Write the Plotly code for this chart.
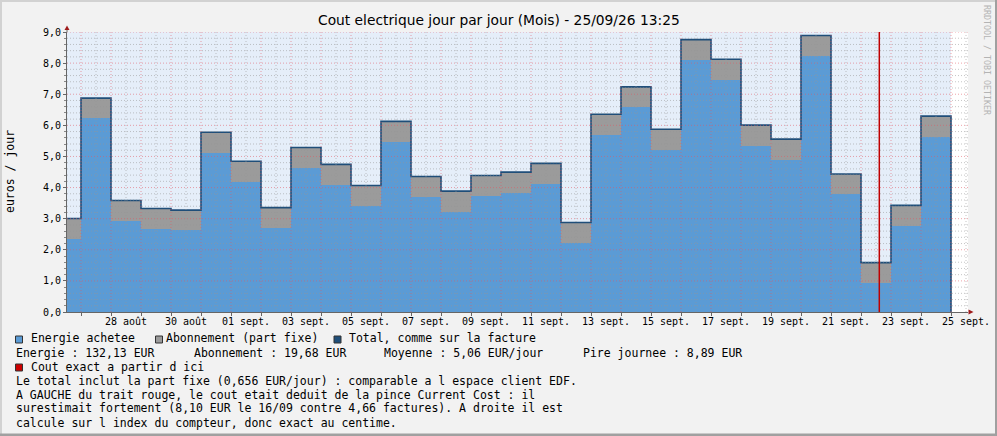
import plotly.graph_objects as go

# jours affiches (26 aout -> 24 sept 2026), une barre par jour
jours = ["26/08", "27/08", "28/08", "29/08", "30/08", "31/08",
         "01/09", "02/09", "03/09", "04/09", "05/09", "06/09", "07/09", "08/09",
         "09/09", "10/09", "11/09", "12/09", "13/09", "14/09", "15/09", "16/09",
         "17/09", "18/09", "19/09", "20/09", "21/09", "22/09", "23/09", "24/09"]

# cout de l'energie achetee (EUR / jour)
energie = [2.35, 6.22, 2.93, 2.67, 2.62, 5.12, 4.19, 2.70, 4.63, 4.09, 3.41, 5.47,
           3.70, 3.23, 3.73, 3.84, 4.12, 2.22, 5.70, 6.58, 5.22, 8.10, 7.47, 5.35,
           4.90, 8.23, 3.78, 0.93, 2.77, 5.64]

# abonnement (part fixe, EUR / jour)
abonnement = [0.656, 0.656, 0.656, 0.656, 0.656, 0.656, 0.656, 0.656, 0.656, 0.656,
              0.656, 0.656, 0.656, 0.656, 0.656, 0.656, 0.656, 0.656, 0.656, 0.656,
              0.656, 0.656, 0.656, 0.656, 0.656, 0.656, 0.656, 0.656, 0.656, 0.656]

# etiquettes de l'axe des temps (une sur deux), indice du jour depuis le 26/08
tick_jours = [2, 4, 6, 8, 10, 12, 14, 16, 18, 20, 22, 24, 26, 28, 30]
tick_labels = ["28 août", "30 août", "01 sept.", "03 sept.", "05 sept.", "07 sept.",
               "09 sept.", "11 sept.", "13 sept.", "15 sept.", "17 sept.", "19 sept.",
               "21 sept.", "23 sept.", "25 sept."]

# trait rouge : cout exact a partir d'ici (22/09 vers 14h40)
trait_rouge = 27.61

titre = "Cout electrique jour par jour (Mois) - 25/09/26 13:25"

# --- geometrie (pixels de l'image) ---
L, R, T, B = 67, 968, 32, 312
W, H = R - L, B - T


def px(x):
    return (x - L) / W


def py(y):
    return (B - y) / H


x_range = [(L - 51) / 30, (R - 51) / 30]
n = len(jours)
x = [i + 0.5 for i in range(n)]
total = [e + a for e, a in zip(energie, abonnement)]

MONO = "DejaVu Sans Mono"

fig = go.Figure()
fig.add_trace(go.Bar(x=x, y=energie, width=1, marker=dict(color="#5B9BD5", line_width=0),
                     name="Energie achetee"))
fig.add_trace(go.Bar(x=x, y=abonnement, width=1, marker=dict(color="#9B9B9B", line_width=0),
                     name="Abonnement (part fixe)"))
fig.add_trace(go.Scatter(x=list(range(n)) + [n, n], y=total + [total[-1], 0],
                         mode="lines", line=dict(color="#1F4E79", width=1.6, shape="hv"),
                         name="Total"))

shapes = []
# fond bleu clair jusqu'a la fin des donnees
shapes.append(dict(type="rect", xref="x", yref="paper", x0=x_range[0], x1=n, y0=0, y1=1,
                   fillcolor="#E5EEF9", line_width=0, layer="below"))

# grille (dessinee par-dessus les barres, comme rrdtool)
grid_minor = dict(color="rgba(150,150,150,0.55)", width=1, dash="1px,2px")
grid_major = dict(color="rgba(225,90,100,0.55)", width=1, dash="1px,2px")
for k in range(1, 45):
    if k % 5:
        shapes.append(dict(type="line", xref="paper", yref="y", x0=0, x1=1, y0=k * 0.2, y1=k * 0.2,
                           line=grid_minor, layer="above"))
for k in range(1, 10):
    shapes.append(dict(type="line", xref="paper", yref="y", x0=0, x1=1, y0=k, y1=k,
                       line=grid_major, layer="above"))
for k in range(0, 31):
    xm = k + 0.5
    if x_range[0] < xm < x_range[1]:
        shapes.append(dict(type="line", xref="x", yref="paper", x0=xm, x1=xm, y0=0, y1=1,
                           line=grid_minor, layer="above"))
for k in range(1, 31):
    shapes.append(dict(type="line", xref="x", yref="paper", x0=k, x1=k, y0=0, y1=1,
                       line=grid_major, layer="above"))

# trait rouge
shapes.append(dict(type="line", xref="x", yref="paper", x0=trait_rouge, x1=trait_rouge, y0=0, y1=1,
                   line=dict(color="#C00000", width=1.5), layer="above"))

# prolongement des axes + fleches
shapes.append(dict(type="line", xref="paper", yref="paper", x0=0, x1=0, y0=1, y1=py(29),
                   line=dict(color="#666666", width=1)))
shapes.append(dict(type="path", xref="paper", yref="paper", xsizemode="pixel", ysizemode="pixel",
                   xanchor=0, yanchor=1, path="M -2.5,2 L 2.5,2 L 0,6.5 Z",
                   fillcolor="#9E1B1B", line_width=0))
shapes.append(dict(type="path", xref="paper", yref="paper", xsizemode="pixel", ysizemode="pixel",
                   xanchor=1, yanchor=0, path="M 0.5,-2.5 L 0.5,2.5 L 5.5,0 Z",
                   fillcolor="#9E1B1B", line_width=0))

# cadre 3D de l'image
shapes.append(dict(type="rect", xref="paper", yref="paper", x0=px(0), x1=px(997), y0=py(2), y1=py(0),
                   fillcolor="#D2D2D2", line_width=0))
shapes.append(dict(type="rect", xref="paper", yref="paper", x0=px(0), x1=px(2), y0=py(436), y1=py(0),
                   fillcolor="#D2D2D2", line_width=0))
shapes.append(dict(type="rect", xref="paper", yref="paper", x0=px(0), x1=px(997), y0=py(436), y1=py(433.5),
                   fillcolor="#A0A0A0", line_width=0))
shapes.append(dict(type="rect", xref="paper", yref="paper", x0=px(995), x1=px(997), y0=py(436), y1=py(0),
                   fillcolor="#A0A0A0", line_width=0))

# carres de legende
legende = [(15.5, 339.5, "#5B9BD5"), (155.5, 339.5, "#9B9B9B"), (334, 339.5, "#1F4E79"),
           (15.5, 367.5, "#CC0000")]
for lx, ly, col in legende:
    shapes.append(dict(type="rect", xref="paper", yref="paper", x0=px(lx), x1=px(lx + 7),
                       y0=py(ly + 3.5), y1=py(ly - 3.5), fillcolor=col,
                       line=dict(color="#333333", width=1)))

annotations = []


def texte(tx, ty, s, size=11.5, family=MONO, color="#000000", **kw):
    annotations.append(dict(xref="paper", yref="paper", x=px(tx), y=py(ty), text=s, showarrow=False,
                            xanchor=kw.pop("xanchor", "left"), yanchor="middle", borderpad=0,
                            font=dict(family=family, size=size, color=color), **kw))


texte(498.5, 20, titre, size=13.8, family="DejaVu Sans", xanchor="center")
texte(10, 172, "euros / jour", textangle=-90, xanchor="center")
texte(987, 60, "RRDTOOL / TOBI OETIKER", size=8.3, color="#B4B4B4", textangle=90, xanchor="center")

texte(29.5, 338.5, "Energie achetee")
texte(164.5, 338.5, "Abonnement (part fixe)")
texte(348, 338.5, "Total, comme sur la facture")
texte(15, 352.5, "Energie : 132,13 EUR")
texte(192.5, 352.5, "Abonnement : 19,68 EUR")
texte(382.5, 352.5, "Moyenne : 5,06 EUR/jour")
texte(581.5, 352.5, "Pire journee : 8,89 EUR")
texte(29.5, 366.5, "Cout exact a partir d ici")
texte(15, 380.5, "Le total inclut la part fixe (0,656 EUR/jour) : comparable a l espace client EDF.")
texte(15, 394.5, "A GAUCHE du trait rouge, le cout etait deduit de la pince Current Cost : il")
texte(15, 408.5, "surestimait fortement (8,10 EUR le 16/09 contre 4,66 factures). A droite il est")
texte(15, 422.5, "calcule sur l index du compteur, donc exact au centime.")

fig.update_layout(
    width=997, height=436,
    margin=dict(l=L, r=997 - R, t=T, b=436 - B),
    paper_bgcolor="#F2F2F2", plot_bgcolor="#FFFFFF",
    barmode="stack", bargap=0, showlegend=False,
    separators=", ",
    shapes=shapes, annotations=annotations,
    font=dict(family=MONO, size=10, color="#000000"),
)
fig.update_xaxes(range=x_range, tickvals=[k + 0.5 for k in tick_jours], ticktext=tick_labels,
                 automargin=False, fixedrange=True,
                 showgrid=False, zeroline=False, showline=True, linecolor="#666666", linewidth=1,
                 ticks="", tickfont=dict(family=MONO, size=10),
                 minor=dict(ticks="outside", tick0=0, dtick=1, ticklen=3, tickcolor="#666666", showgrid=False))
fig.update_yaxes(range=[0, 9], tickvals=list(range(10)), tickformat=".1f",
                 automargin=False, fixedrange=True,
                 showgrid=False, zeroline=False, showline=True, linecolor="#666666", linewidth=1,
                 ticks="outside", ticklen=3, tickcolor="#666666", tickfont=dict(family=MONO, size=10),
                 minor=dict(ticks="outside", dtick=0.2, ticklen=2, tickcolor="#888888", showgrid=False))

fig.write_html("out.html", config={"displayModeBar": False},
               post_script="document.body.style.margin='0';")
